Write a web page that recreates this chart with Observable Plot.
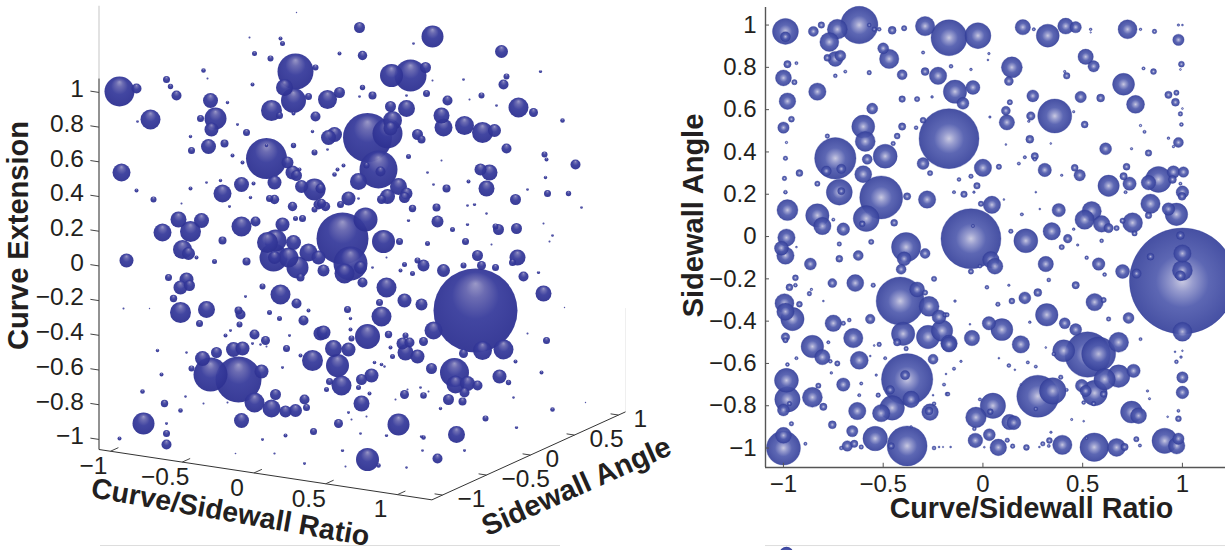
<!DOCTYPE html>
<html>
<head>
<meta charset="utf-8">
<script src="https://cdn.jsdelivr.net/npm/d3@7"></script>
<script src="https://cdn.jsdelivr.net/npm/@observablehq/plot@0.6"></script>
<style>
html,body{margin:0;padding:0;background:#fff;overflow:hidden}
#wrap{position:relative;width:1225px;height:550px}
#wrap svg{display:block;position:absolute;top:0}
</style>
</head>
<body>
<div id="wrap"></div>
<script>
// Tick values
const ratioTicks = [-1, -0.5, 0, 0.5, 1];
const angleTicks = [-1, -0.5, 0, 0.5, 1];
const extensionTicks = [-1, -0.8, -0.6, -0.4, -0.2, 0, 0.2, 0.4, 0.6, 0.8, 1];
const angleTicksFront = [-1, -0.8, -0.6, -0.4, -0.2, 0, 0.2, 0.4, 0.6, 0.8, 1];

// Front view: [Curve/Sidewall Ratio, Sidewall Angle, size]
const frontBubbles = [
[-0.99,0.97,13],[-0.99,0.945,5],[-0.85,0.97,5],[-0.81,1,3.3],[-0.73,0.98,10],[-0.77,0.92,9.5],[-0.62,1,18.7],[-0.57,1,2],[-0.545,0.98,2.3],[-0.52,0.98,2],[-0.455,0.975,4],[-0.395,0.985,2.7],[-0.29,0.995,9.7],[-0.17,0.94,18],
[-0.715,0.855,5.5],[-0.74,0.84,7.5],[-0.78,0.845,3.5],[-0.5,0.89,5.5],[-0.47,0.84,9.7],[-0.3,0.87,1.7],[-0.98,0.815,3.7],[-0.935,0.82,1.7],[-1,0.75,8],[-0.945,0.73,2.7],[-0.83,0.685,8.7],[-0.98,0.64,8.3],[-0.69,0.78,1.7],[-0.74,0.76,2],[-0.57,0.775,2.3],[-0.405,0.765,5],[-0.29,0.78,4],[-0.225,0.76,8.7],[-0.405,0.65,3.3],[-0.33,0.65,2.7],[-0.255,0.66,1.4],[-0.555,0.605,5.5],[-0.96,0.555,3],[-1,0.515,5.7],[-0.6,0.52,11.5],[-0.59,0.45,10],[-0.405,0.52,3.7],[-0.335,0.515,2],[-0.3,0.55,3],[-0.43,0.475,3],[-0.45,0.44,2.3],[-0.78,0.475,2.3],[-0.74,0.37,20.7],[-0.785,0.31,5],[-0.71,0.32,4.7],[-0.49,0.38,12],[-0.58,0.365,5],[-0.99,0.37,2.3],[-0.985,0.445,1.3],[-0.92,0.3,3.5],[-0.995,0.275,2.3],[-0.99,0.21,2],[-0.83,0.25,2.7],[-0.6,0.295,8.5],[-0.72,0.21,13],[-0.71,0.215,3.7],[-0.51,0.185,21.5],[-0.585,0.085,13],[-0.605,0.06,3],[-0.38,0.19,3.7],[-0.28,0.175,8.7],[-0.3,0.345,6],[-0.265,0.3,2.7],[-0.17,0.463,30],[-0.98,0.125,10.5],[-0.83,0.1,11.7],[-0.805,0.05,8.7],[-0.75,0.08,1.7],[-0.7,0.035,6.3],[-0.445,0.065,3.5],[-0.985,-0.005,8.7],[-1.01,-0.055,7],[-0.99,-0.09,8.7],[-0.935,-0.05,1],[-0.865,-0.13,6],[-0.72,-0.035,2.3],[-0.72,-0.105,3.5],[-0.625,-0.09,5],[-0.56,-0.025,2.7],[-0.385,-0.05,14.7],[-0.29,-0.08,5],[-0.395,-0.105,7],[-0.41,-0.155,5],
[-0.025,0.95,13],[0.2,0.99,7.7],[0.325,0.95,11.5],[0.255,0.98,1.7],[0.415,0.995,8],[0.465,0.99,5.7],[0.54,0.98,1.4],[0.54,0.965,0.8],[0.725,0.98,9.5],[0.79,0.98,1.4],[0.86,0.97,2.3],[0.98,1,1.3],[1,1,1],[0.98,0.93,5.7],[0.515,0.85,7.7],[0.555,0.805,5.7],[0.03,0.865,1.3],[0.025,0.835,1],[0.145,0.8,10.5],[0.13,0.735,4.5],[-0.16,0.805,2],[-0.06,0.79,1.4],[0.42,0.76,3.3],[0.41,0.78,1.3],[0.705,0.72,11],[0.765,0.625,9],[0.855,0.78,3],[0.805,0.795,1.7],[0.995,0.815,3],[0.99,0.79,1],[0.93,0.67,3.7],[0.97,0.68,2.7],[0.965,0.635,4],[0.99,0.58,2.3],[0.995,0.53,2],[1,0.605,1],[0.25,0.665,6],[0.49,0.66,5.7],[0.59,0.655,4],[-0.05,0.705,7],[-0.14,0.685,11.7],[-0.1,0.63,6],[0.135,0.635,2.7],[0.115,0.595,4.5],[0.12,0.54,7.7],[0.24,0.57,4.3],[0.23,0.545,1.3],[0.36,0.57,17],[0.455,0.59,1.3],[0.51,0.53,3.5],[0.035,0.565,1.3],[0.235,0.46,4],[0.115,0.435,1],[0.34,0.44,1],[0.615,0.415,6],[0.745,0.415,1.3],[0.83,0.395,3.3],[0.79,0.525,1.3],[0.81,0.495,1.7],[0.93,0.465,1.4],[0.98,0.445,5],[0.955,0.425,1.3],[0.26,0.38,3.7],[0.26,0.365,2],[0.21,0.375,1.7],[0.18,0.345,1.7],[0.08,0.33,2.7],[0,0.325,8.7],[-0.12,0.27,2],[-0.06,0.285,2.3],[-0.03,0.24,3.3],[-0.095,0.2,3.3],[-0.145,0.21,1.7],[-0.045,0.21,1.3],[0.31,0.315,6.7],[0.395,0.29,1.3],[0.46,0.325,3.5],[0.485,0.29,5.7],[0.72,0.33,3.5],[0.705,0.285,3.7],[0.735,0.25,6.7],[0.715,0.21,1.7],[0.63,0.24,10.7],[0.88,0.27,13],[0.83,0.255,7.3],[0.955,0.305,6.3],[1.005,0.305,5.3],[0.95,0.27,4],[0.99,0.25,1.7],[1,0.21,6.3],[0.998,0.19,4],[0.84,0.155,9.7],[0.93,0.13,6.3],[0.97,0.105,11.3],[0.83,0.1,3.3],[0.265,0.21,1],[0.045,0.15,8.7],[-0.01,0.155,2.7],[0.105,0.175,1],[0.38,0.125,6.7],[0.545,0.12,9.7],[0.51,0.08,9.7],[0.595,0.06,8.3],[0.63,0.04,4.7],[0.67,0.04,2.7],[0.7,0.075,2.7],[0.75,0.065,10],[0.76,0.015,2.7],[0.195,0.105,1.7],[0.285,0.13,1],[0.14,0.025,2.3],[0.215,-0.02,12],[0.345,0.025,8.7],[0.425,-0.01,4.3],[0.455,0.035,1.4],[0.395,-0.05,2.7],[0.475,-0.04,1.3],[0.595,-0.02,2],[0.315,-0.13,7.7],[0.52,-0.1,1.9],[0.58,-0.13,6.3],[0.7,-0.165,7],[0.61,-0.18,2],[0.77,-0.175,4.7],[-0.06,-0.01,30],[0.04,-0.11,8.3],[0.06,-0.14,8],[-0.06,-0.165,2.7],[-0.015,-0.14,2],[-0.05,0.05,1.7],[1,-0.21,53],[0.99,0.005,4],[1,-0.08,8.7],[0.84,-0.095,3.5],[1,-0.16,10],[0.99,-0.185,5],
[-0.94,-0.195,3],[-0.97,-0.24,3.5],[-0.94,-0.23,2],[-0.755,-0.22,4.5],[-0.64,-0.22,8.5],[-0.55,-0.23,2.3],[-0.415,-0.305,24],[-0.33,-0.25,7.5],[-0.29,-0.265,2.7],[-0.27,-0.33,10],[-0.245,-0.2,2.7],[-0.22,-0.38,7],[-0.19,-0.37,2.3],[-0.87,-0.27,2.3],[-0.86,-0.25,1.3],[-0.8,-0.305,1],[-0.995,-0.315,9.5],[-0.99,-0.355,8.7],[-0.955,-0.39,11.7],[-0.92,-0.32,3],[-0.565,-0.39,4.8],[-0.67,-0.395,2],[-0.75,-0.41,8.3],[-0.7,-0.41,2.3],[-0.65,-0.48,9.7],[-0.4,-0.46,11.7],[-0.43,-0.5,3.7],[-0.275,-0.475,11.7],[-0.205,-0.445,10.7],[-0.17,-0.505,8.3],[-0.99,-0.475,4.3],[-0.99,-0.49,2.7],[-0.855,-0.52,11.3],[-0.805,-0.57,7.7],[-0.775,-0.5,1.7],[-0.935,-0.575,1.7],[-0.765,-0.59,2],[-0.73,-0.6,2.7],[-0.62,-0.585,9],[-0.52,-0.51,2.3],[-0.545,-0.515,1],[-0.49,-0.575,1.7],[-0.565,-0.565,1],[-0.385,-0.53,2.3],[-0.25,-0.58,5],[-0.38,-0.675,25.7],[-0.39,-0.655,4.7],[-0.98,-0.605,2],[-0.985,-0.68,12],[-0.98,-0.77,12.7],[-0.97,-0.79,2.3],[-1,-0.82,6],[-0.855,-0.76,10],[-0.825,-0.705,2.7],[-0.8,-0.805,3.7],[-0.7,-0.7,6.7],[-0.61,-0.695,1.7],[-0.76,-0.645,1.4],[-0.535,-0.655,1.3],[-0.465,-0.725,4.3],[-0.62,-0.75,1.7],[-0.525,-0.75,2.3],[-0.36,-0.77,8.3],[-0.63,-0.825,8.7],[-0.455,-0.81,12.3],[-0.51,-0.835,8.7],[-0.265,-0.83,8.3],[-0.27,-0.825,4],[-0.195,-0.7,1.7],[-0.185,-0.65,1],[-0.18,-0.745,2],[-0.245,-0.79,2],[-0.25,-0.75,1],[-1,-0.94,8],[-1,-1,17],[-0.96,-0.885,2.3],[-0.89,-0.98,1.7],[-0.755,-0.89,4],[-0.655,-0.92,5.7],[-0.68,-0.99,5.3],[-0.645,-0.98,3.7],[-0.71,-1,2],[-0.61,-0.995,2.3],[-0.54,-0.955,12.3],[-0.38,-0.99,20],[-0.46,-0.99,3.3],[-0.36,-0.9,1.3],[-0.245,-1,2],[-0.22,-0.995,1],[-0.2,-0.995,0.8],
[0.02,-0.24,2],[0.13,-0.23,1.3],[0.21,-0.29,6],[0.275,-0.265,4],[0.145,-0.305,3],[0.075,-0.32,2.3],[-0.14,-0.305,1.4],[0.33,-0.205,2],[0.465,-0.23,3.7],[0.56,-0.31,8.7],[0.605,-0.3,2.7],[-0.18,-0.37,2.3],[0.32,-0.37,11.3],[0.63,-0.39,2.3],[0.73,-0.385,5.5],[0.41,-0.41,5.5],[0.03,-0.41,6.7],[0.095,-0.44,11],[-0.055,-0.48,7.7],[-0.17,-0.51,7.7],[0.19,-0.51,8.7],[0.465,-0.44,6],[-0.065,-0.415,1],[0.235,-0.405,1.4],[0.405,-0.54,11],[0.525,-0.558,22.7],[0.58,-0.555,17],[0.68,-0.5,10],[0.355,-0.555,2],[0.79,-0.485,1.7],[1,-0.45,9.5],[0.315,-0.525,1],[0.13,-0.61,2],[0.225,-0.595,1.7],[0.265,-0.615,1.7],[-0.145,-0.625,1.7],[-0.11,-0.59,1.3],[-0.175,-0.745,2],[0.08,-0.575,1],[0.16,-0.63,1],[0.68,-0.66,11.3],[0.61,-0.675,10.7],[0.755,-0.635,6.7],[0.495,-0.705,6.3],[0.515,-0.73,5.7],[0.56,-0.74,12.7],[0.605,-0.745,3.3],[0.505,-0.785,2],[0.555,-0.79,2.3],[0.39,-0.665,2.3],[0.42,-0.725,1.7],[0.19,-0.7,1],[0.35,-0.73,13.3],[0.275,-0.755,21],[0.265,-0.815,2],[0.05,-0.8,12.7],[-0.035,-0.855,10.3],[0.037,-0.828,3],[-0.015,-0.77,1.7],[0.133,-0.877,7.7],[0.155,-0.88,7],[0.745,-0.83,11],[0.78,-0.847,8],[0.825,-0.73,1.3],[0.835,-0.767,1.2],[0.98,-0.824,1.6],[0.98,-0.861,3],[1,-0.666,5.7],[1,-0.737,6.3],[0.97,-0.592,2],[0.993,-0.57,1.4],[0.963,-0.545,1],[1,-0.54,0.9],[0.032,-0.937,6],[-0.038,-0.964,7.3],[-0.043,-0.909,2],[0.077,-0.997,8.3],[0.122,-0.963,2.3],[0.149,-0.991,2.3],[0.218,-0.997,3],[0.3,-0.98,2.3],[0.283,-0.995,1],[0.333,-0.964,3],[0.33,-0.99,1.6],[0.341,-0.925,1.3],[0.398,-0.985,9.7],[0.558,-0.996,14.3],[0.52,-0.953,1.5],[0.67,-0.997,9],[0.71,-0.995,3.7],[0.769,-0.958,2.7],[0.787,-0.988,1.7],[0.911,-0.966,12.7],[0.98,-0.956,5.7],[0.971,-0.989,8.3],[-0.162,-0.995,1],[0.007,-0.996,1],[0.445,-0.865,1.2],[0.505,-0.873,1],[0.926,-0.852,1]
];

// 3-D view, as read in the plane of the projection: [across, down, size]
const depthBubbles = [
[119,91,15],[136,88,5],[150,119,10],[137,121,1.3],[166,79,3.5],[170,86,2.7],[176,95,5],[203,70,2.3],[207,78,1],[210,100,7.5],[227,102,1.7],[200,118,3.5],[215,118,11],[211,129,7],[237,124,1.4],[246,132,3.5],[190,136,1.7],[191,150,3.5],[208,146,7.5],[224,143,4],[232,155,2],[242,162,2],[266,158,20.5],[266,145,1.7],[293,145,2.7],[287,162,6],[292,172,7],[296,175,5.5],[274,182,7],[241,184,7.5],[253,183,2],[222,193,9],[190,188,2],[206,182,1.3],[220,180,1.7],[136,190,2],[153,199,3],[121,172,9],[181,203,1],[250,197,1.7],[269,198,3.5],[274,199,4.7],[292,206,4.7],[301,186,6.5],[314,189,11],[314,209,3],[318,204,5],[229,206,1.4],[178,219,8],[201,220,7.5],[190,231,10.5],[162,232,9],[241,226,10],[255,221,5],[282,224,7],[295,218,2.5],[302,218,3.5],[182,249,9.5],[188,253,6.5],[196,257,2],[126,260,7],[222,240,4],[214,261,2.5],[246,261,4],[267,242,10.5],[275,240,11],[293,242,7.5],[273,257,14],[288,257,10],[297,267,11],[308,252,9],[318,257,7],[274,257,6.5],[295,71,18],[315,67,3],[284,87,8.5],[293,100,12.5],[308,96,3.5],[271,110,10.5],[279,115,3.5],[315,116,5],[293,113,2],[280,38,2],[282,43,2.5],[254,53,2.5],[270,58,3],[249,37,1],[296,12,0.7],[252,84,2],[314,152,3],[312,131,1.7],[299,169,2],
[359,27,5.5],[432,36,11],[501,51,6.5],[362,55,4.7],[339,53,2],[413,43,1.3],[391,75,11.5],[410,75,16],[425,67,5.5],[506,76,3],[503,84,5],[540,71,1.6],[463,79,1.3],[432,80,1],[362,87,2.7],[339,92,5.5],[327,99,9.5],[372,95,4],[426,93,3.5],[406,95,1.3],[447,100,5],[481,95,3],[359,96,1.3],[390,106,5.5],[406,108,8.5],[469,99,1],[518,107,10],[533,112,4.5],[496,105,1.3],[562,120,2.3],[441,115,8],[443,127,9],[464,125,9.5],[482,132,10.5],[494,130,6.5],[367,137,24.5],[387,133,15],[392,120,9.5],[390,128,7],[417,134,5.5],[421,139,4],[334,134,7.5],[328,137,7.5],[327,149,1.3],[506,148,5],[408,156,2.5],[378,169,19],[358,181,8.5],[380,171,5],[366,165,3],[544,154,3],[546,159,2],[575,164,5],[480,169,6],[489,172,8],[427,172,1.3],[441,160,1],[343,165,2],[334,174,2.3],[337,169,2],[468,181,2],[486,188,8],[545,177,1.7],[446,188,4],[433,184,1.3],[398,186,8.5],[406,193,6],[387,196,7.5],[404,197,5.5],[381,199,4.5],[348,198,7],[340,204,3.5],[325,206,4.7],[321,203,4.7],[320,188,5],[515,199,5.5],[527,189,1.3],[547,193,3.5],[568,193,2.7],[581,207,1.3],[436,207,4],[412,208,3.7],[467,205,1.3],[474,204,1.6],[486,213,1.2],[358,198,1.3],[437,221,6],[408,220,1.6],[452,229,2.5],[467,224,1.6],[498,229,5.5],[495,226,3],[516,228,5.5],[543,223,1],[342,238,26],[365,219,12],[383,241,11.5],[399,241,3.5],[427,243,2.5],[465,241,3.5],[491,244,1],[552,235,1.3],[549,241,1],[350,263,17],[477,255,5.5],[517,257,8],[512,262,3.5],[417,260,3],[404,264,2.5],[423,265,6],[400,270,2],[412,273,2.5],[372,267,1.3],[386,257,1],[443,270,6.5],[463,265,3],[481,265,4.5],[495,267,3.5],[538,272,1.6],[523,276,5],[323,270,6],[344,273,10],[360,267,6.5],
[168,277,3.5],[186,279,7],[189,285,5.5],[180,287,7],[173,298,3.7],[180,312,10.5],[206,309,8.5],[238,310,4],[240,314,5],[280,294,10],[296,303,5],[300,277,4],[199,323,3.5],[239,324,3],[245,296,1.4],[262,286,3],[269,312,2.5],[279,318,2.5],[308,310,2],[303,320,5],[320,333,7],[254,334,5],[265,340,4.5],[225,335,2],[230,330,1.4],[286,348,3.5],[289,335,1.4],[157,350,1.7],[123,308,1],[149,308,0.7],[233,349,7.5],[242,348,7],[216,352,5.5],[202,358,7.5],[191,368,3],[210,374,17],[238,379,23],[261,371,7],[312,360,10.5],[300,355,2],[282,367,1.4],[161,374,2],[142,391,2.3],[164,403,3.7],[180,410,2.3],[254,402,10],[275,394,5.5],[271,408,9],[285,411,6],[295,410,6.5],[304,399,5],[306,407,3.5],[143,423,11],[241,420,7.5],[166,423,1.4],[166,433,3.5],[166,444,5],[119,438,2],[313,431,3.5],[285,435,2],[262,439,1.4],[274,453,1.1],[304,463,1.4],[185,396,1.2],[203,403,1],[186,352,1.2],[252,343,1.4],[260,344,1.2],[266,346,1],[227,402,1],[235,453,0.8],
[475,310,42],[386,287,10],[404,300,7],[421,304,6],[362,282,5],[347,309,3.5],[379,302,3.5],[381,316,10],[350,318,1.7],[367,336,12.5],[323,332,7],[388,334,3.7],[433,330,9],[503,349,10],[482,350,9.5],[463,353,4.5],[543,293,8],[546,340,3.5],[527,333,1],[564,307,0.7],[351,338,3],[350,329,2],[333,348,8.5],[348,349,7],[337,365,11.5],[341,385,10],[329,381,3.5],[326,389,2.5],[361,379,5.5],[371,375,7],[358,387,2.5],[369,393,2],[361,403,8],[338,423,4.5],[348,412,1.4],[423,341,4.5],[409,342,5],[405,335,3],[402,343,6],[405,352,8],[417,356,7],[392,356,2.5],[390,347,2],[374,362,1.8],[381,364,1.8],[384,366,1.2],[431,368,5.5],[454,372,14.5],[455,384,9],[467,383,7.5],[477,385,5],[464,392,5],[448,399,5.5],[462,401,4],[499,376,7],[508,382,2.7],[515,361,2],[541,372,2],[513,397,1.2],[552,409,2.3],[485,418,3],[516,427,1.6],[585,402,0.7],[404,394,4.5],[423,395,3.3],[440,408,1.7],[398,424,11],[456,434,8.5],[423,437,2.3],[421,436,1.6],[437,458,5],[464,450,1.4],[367,459,11.5],[378,465,2.3],[422,450,1.3],[342,450,1.6],[360,433,1.3],[386,435,1.6],[406,467,1.2],[345,466,1],[351,419,1],[366,416,1],[395,399,1],[420,387,1.3],[428,391,1],[407,389,1]
];

const legendSample = [[-0.985,-1.5,7]];

// Box limits of the 3-D axes
const ratioMin = -1.08, ratioMax = 1.24, angleMin = -1.12, angleMax = 1.08, extMin = -1.058, extTop = 1.08, extWall = 1.5;
const project = (ratio, angle, ext) => [
  98.5 + 143.5 * (ratio - ratioMin) + 88 * (angle - angleMin),
  449 + 21.7 * (ratio - ratioMin) - 40 * (angle - angleMin) - 173.5 * (ext - extMin)
];
const minus = d => String(d).replace("-", "\u2212");
const sans = "'Liberation Sans', Arimo, Helvetica, Arial, sans-serif";
const ink = "#231f20";

function ballGradient(id, fx, fy, r, stops) {
  return () => {
    const defs = d3.create("svg:defs");
    const g = defs.append("radialGradient").attr("id", id).attr("cx", 0.5).attr("cy", 0.5).attr("r", r).attr("fx", fx).attr("fy", fy);
    stops.forEach(([o, c]) => g.append("stop").attr("offset", o).attr("stop-color", c));
    return defs.node();
  };
}

const sizeScale = {type: "linear", domain: [0, 60], range: [0, 60]};
const byOrder = rows => rows.slice().sort((a, b) => b[2] - a[2]);

// 3-D panel
const seg = (rows) => rows.map(([a, b]) => {
  const p = project(...a), q = project(...b);
  return {x1: p[0], y1: p[1], x2: q[0], y2: q[1]};
});
const zSeg = seg(extensionTicks.map(e => [[ratioMin, angleMin, e], [ratioMin - 0.06, angleMin, e]]));
const rSeg = seg(ratioTicks.map(r => [[r, angleMin, extMin], [r, angleMin + 0.09, extMin]]));
const aSeg = seg(angleTicks.map(a => [[ratioMax, a, extMin], [ratioMax - 0.055, a, extMin]]));
const floorEdges = seg([
  [[ratioMin, angleMin, extMin], [ratioMax, angleMin, extMin]],
  [[ratioMax, angleMin, extMin], [ratioMax, angleMax, extMin]]
]);
const zMain = seg([[[ratioMin, angleMin, extMin], [ratioMin, angleMin, extTop]]]);
const zFaint = seg([[[ratioMin, angleMin, extTop], [ratioMin, angleMin, extWall]]]);
const backFaint = seg([[[ratioMax, angleMax, extMin], [ratioMax, angleMax, -0.46]]]);
const projected = (f) => ({x: d => f(d)[0], y: d => f(d)[1]});

const depth = Plot.plot({
  width: 690, height: 550, margin: 0,
  x: {domain: [0, 690], range: [0, 690], axis: null},
  y: {domain: [0, 550], range: [0, 550], axis: null},
  r: sizeScale,
  style: {fontFamily: sans, background: "transparent"},
  marks: [
    ballGradient("depthBall", 0.5, 0.18, 0.62, [[0, "#9593c4"], [0.18, "#6464ae"], [0.45, "#383c9c"], [1, "#2a2d8e"]]),
    Plot.link(zFaint, {x1: "x1", y1: "y1", x2: "x2", y2: "y2", stroke: "#cfcfcf", strokeWidth: 1.2}),
    Plot.link(backFaint, {x1: "x1", y1: "y1", x2: "x2", y2: "y2", stroke: "#efefef"}),
    Plot.link(zMain, {x1: "x1", y1: "y1", x2: "x2", y2: "y2", stroke: "#777", strokeWidth: 1.6}),
    Plot.link(floorEdges, {x1: "x1", y1: "y1", x2: "x2", y2: "y2", stroke: "#333", strokeWidth: 1}),
    Plot.link(zSeg, {x1: "x1", y1: "y1", x2: "x2", y2: "y2", stroke: "#444"}),
    Plot.link(rSeg, {x1: "x1", y1: "y1", x2: "x2", y2: "y2", stroke: "#444"}),
    Plot.link(aSeg, {x1: "x1", y1: "y1", x2: "x2", y2: "y2", stroke: "#444"}),
    Plot.dot(byOrder(depthBubbles), {x: d => d[0], y: d => d[1], r: d => d[2], fill: "url(#depthBall)", fillOpacity: 0.95, stroke: "none"}),
    Plot.text(extensionTicks, {...projected(e => project(ratioMin, angleMin, e)), text: minus, textAnchor: "end", dx: -15, dy: -3, fontSize: 24.5, fill: ink}),
    Plot.text(ratioTicks, {...projected(r => project(r, angleMin, extMin)), text: minus, dx: -17, dy: 15, fontSize: 24.5, fill: ink}),
    Plot.text(angleTicks, {...projected(a => project(ratioMax, a, extMin)), text: minus, textAnchor: "start", dx: 15, dy: 4, fontSize: 24.5, fill: ink}),
    Plot.text(["Curve Extension"], {x: 18, y: 235, rotate: -90, fontSize: 29, fontWeight: "bold", fill: ink}),
    Plot.text(["Curve/Sidewall Ratio"], {x: 230, y: 512, rotate: 10, fontSize: 28.5, fontWeight: "bold", fill: ink}),
    Plot.text(["Sidewall Angle"], {x: 576, y: 486, rotate: -24, fontSize: 29, fontWeight: "bold", fill: ink}),
    Plot.ruleY([545], {x1: 100, x2: 560, stroke: "#ddd"})
  ]
});

// Front panel
const xLow = -1.09, xHigh = 1.216, yLow = -1.092, yHigh = 1.083;
const front = Plot.plot({
  width: 585, height: 550,
  marginLeft: 125, marginRight: 0, marginTop: 7, marginBottom: 83,
  x: {domain: [xLow, xHigh], axis: null},
  y: {domain: [yLow, yHigh], axis: null},
  r: sizeScale,
  style: {fontFamily: sans, background: "transparent"},
  marks: [
    ballGradient("frontBall", 0.5, 0.5, 0.5, [[0, "#c5c5df"], [0.2, "#8f94ca"], [0.5, "#4f5aad"], [1, "#36419b"]]),
    Plot.dot(byOrder(frontBubbles), {x: d => d[0], y: d => d[1], r: d => d[2], fill: "url(#frontBall)", fillOpacity: 0.92, stroke: "#2f3a96", strokeOpacity: 0.55, strokeWidth: 0.6}),
    Plot.dot(legendSample, {x: d => d[0], y: d => d[1], r: d => d[2], fill: "url(#frontBall)"}),
    Plot.ruleX([xLow], {y1: yLow, y2: yHigh, stroke: "#555", strokeWidth: 1.4}),
    Plot.ruleY([yLow], {x1: xLow, x2: xHigh, stroke: "#555", strokeWidth: 1.4}),
    Plot.ruleY(angleTicksFront, {x1: xLow, x2: xLow + 0.02, stroke: "#555"}),
    Plot.ruleX(ratioTicks, {y1: yLow, y2: yLow + 0.02, stroke: "#555"}),
    Plot.axisY({ticks: angleTicksFront, tickFormat: minus, tickSize: 0, tickPadding: 9, fontSize: 24, fill: ink, label: null}),
    Plot.axisX({ticks: ratioTicks, tickFormat: minus, tickSize: 0, tickPadding: 7, fontSize: 24, fill: ink, label: null}),
    Plot.text(["Sidewall Angle"], {frameAnchor: "top-left", textAnchor: "middle", lineAnchor: "middle", dx: -72, dy: 208, rotate: -90, fontSize: 29, fontWeight: "bold", fill: ink}),
    Plot.text(["Curve/Sidewall Ratio"], {frameAnchor: "top-left", textAnchor: "middle", lineAnchor: "middle", dx: 266, dy: 501, fontSize: 28.7, fontWeight: "bold", fill: ink}),
    Plot.ruleY([-1.461], {x1: xLow, x2: xHigh, stroke: "#ddd"})
  ]
});

const wrap = document.getElementById("wrap");
depth.style.left = "0px";
front.style.left = "640px";
wrap.appendChild(depth);
wrap.appendChild(front);
</script>
</body>
</html>
